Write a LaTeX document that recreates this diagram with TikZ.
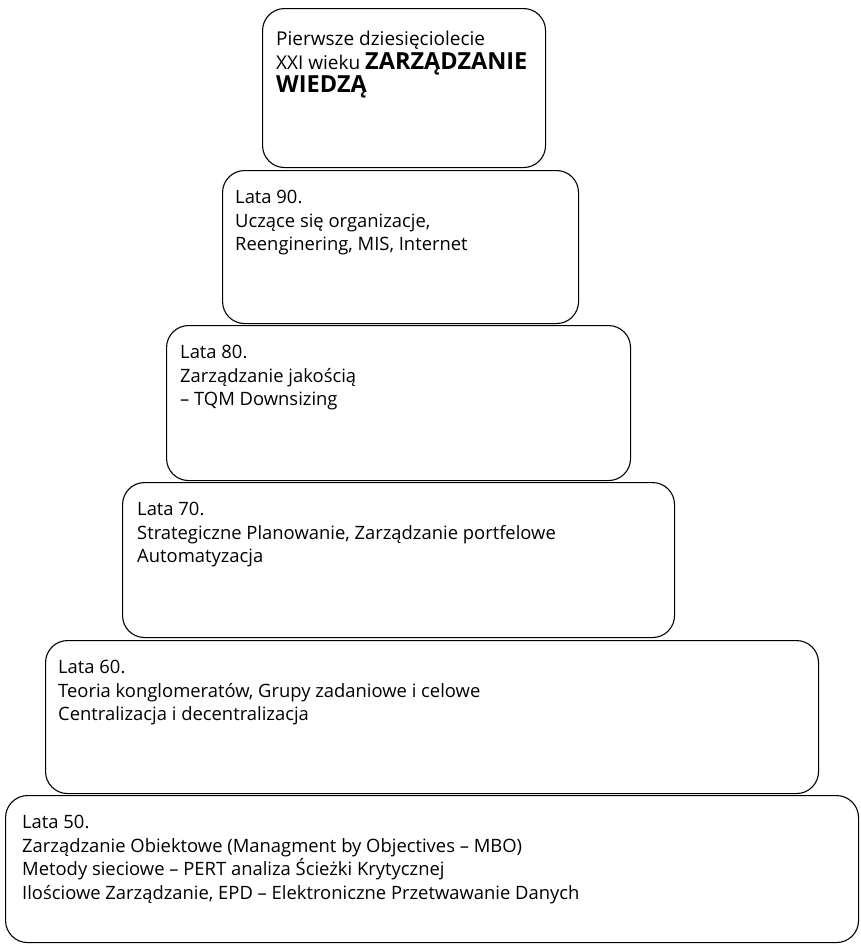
\documentclass[tikz,border=0pt]{standalone}
\usepackage{fontspec}
\setmainfont{Open Sans}
\newcommand{\headword}[1]{{\fontsize{23.5}{23.7}\selectfont\bfseries #1}}
\begin{document}
\begin{tikzpicture}[x=1pt, y=-1pt,
    every node/.style={font=\fontsize{18.4}{23.7}\selectfont},
    level/.style={draw, line width=1.1pt, rounded corners=22pt, anchor=north west, inner sep=0pt},
    yeartext/.style={anchor=north west, align=left, inner sep=0pt}]
  \useasboundingbox (0,0) rectangle (861,946);
  \node[level, minimum width=283pt, minimum height=159pt] (l2000) at (262,8) {};
  \node[level, minimum width=356pt, minimum height=153pt] (l90) at (222,170) {};
  \node[level, minimum width=464pt, minimum height=155pt] (l80) at (166,325) {};
  \node[level, minimum width=552pt, minimum height=155pt] (l70) at (122,482) {};
  \node[level, minimum width=773pt, minimum height=153pt] (l60) at (45,640) {};
  \node[level, minimum width=853pt, minimum height=147pt] (l50) at (5,795) {};

  \node[yeartext, font=\fontsize{19}{23.6}\selectfont] (t2000) at ([xshift=14pt, yshift=-23pt]l2000.north west)
    {Pierwsze dziesięciolecie\\ XXI wieku \headword{ZARZĄDZANIE}\\ \headword{WIEDZĄ}};
  \node[yeartext] (t90) at ([xshift=13pt, yshift=-20pt]l90.north west)
    {Lata 90.\\ Uczące się organizacje,\\ Reenginering, MIS, Internet};
  \node[yeartext] (t80) at ([xshift=14pt, yshift=-20pt]l80.north west)
    {Lata 80.\\ Zarządzanie jakością\\ – TQM Downsizing};
  \node[yeartext] (t70) at ([xshift=15pt, yshift=-20pt]l70.north west)
    {Lata 70.\\ Strategiczne Planowanie, Zarządzanie portfelowe\\ Automatyzacja};
  \node[yeartext] (t60) at ([xshift=13pt, yshift=-20pt]l60.north west)
    {Lata 60.\\ Teoria konglomeratów, Grupy zadaniowe i celowe\\ Centralizacja i decentralizacja};
  \node[yeartext] (t50) at ([xshift=17pt, yshift=-20pt]l50.north west)
    {Lata 50.\\ Zarządzanie Obiektowe (Managment by Objectives – MBO)\\ Metody sieciowe – PERT analiza Ścieżki Krytycznej\\ Ilościowe Zarządzanie, EPD – Elektroniczne Przetwawanie Danych};
\end{tikzpicture}
\end{document}
